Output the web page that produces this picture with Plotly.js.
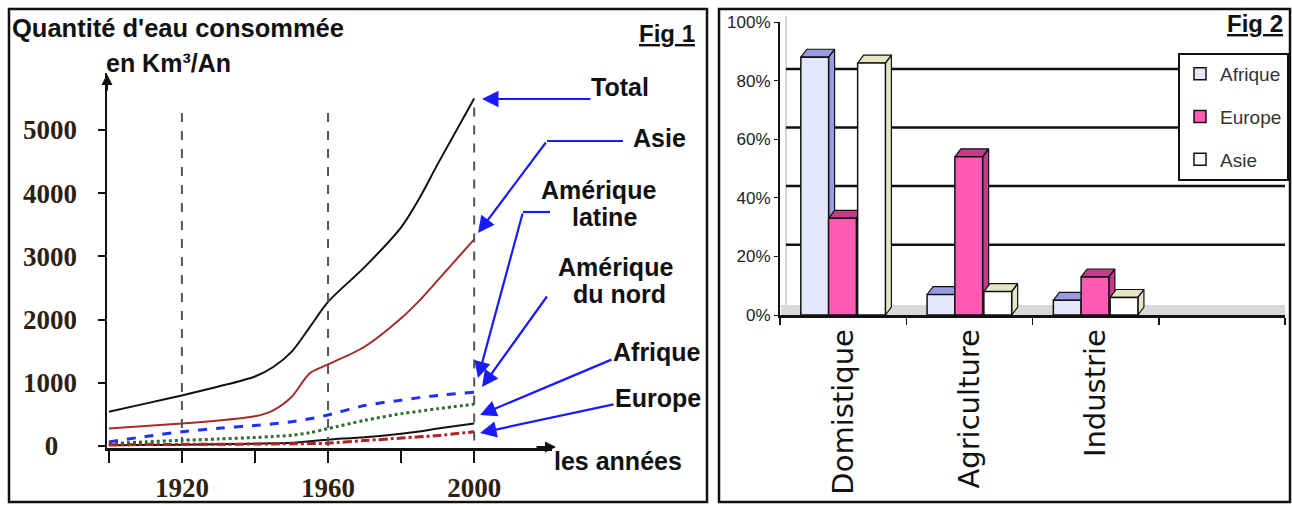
<!DOCTYPE html>
<html><head><meta charset="utf-8">
<script src="https://cdn.plot.ly/plotly-3.0.1.min.js"></script>
<style>html,body{margin:0;padding:0;background:#fff}#c{width:1292px;height:505px}</style>
</head><body><div id="c"></div>
<script>
// ---- Fig 1 data (km3 / an) ----
const years    = [1900,1910,1920,1930,1940,1945,1950,1955,1960,1970,1980,1985,1990,2000];
const total    = [540, 670, 800, 940,1100,1250,1490,1880,2280,2830,3460,3920,4460,5500];
const asie     = [275, 315, 355, 405, 470, 565, 775,1150,1290,1570,2020,2300,2620,3270];
const amLatine = [65,  150, 225, 280, 325, 350, 385, 430, 490, 640, 725, 765, 800, 850];
const amNord   = [35,   65,  90, 110, 135, 150, 170, 210, 275, 405, 510, 550, 590, 660];
const afrique  = [10,   15,  20,  28,  35,  42,  50,  75, 100, 140, 195, 230, 275, 355];
const europe   = [20,   22,  25,  28,  30,  33,  35,  38,  45,  85, 125, 145, 165, 225];
const yTickVals1 = [0,1000,2000,3000,4000,5000];
const yTickText1 = ['0\u2007\u2009','1000','2000','3000','4000','5000'];
const xTickVals1 = [1900,1920,1940,1960,1980,2000];
const xTickText1 = ['','1920','','1960','','2000'];

// ---- Fig 2 data (%) ----
const sectors    = ['Domistique','Agriculture','Industrie'];
const pctAfrique = [88, 7, 5];
const pctEurope  = [33, 54, 13];
const pctAsie    = [86, 8, 6];
const pctTicks   = [0,20,40,60,80,100];
const pctLabels  = ['0%','20%','40%','60%','80%','100%'];

const W = 1292, H = 505;
const px = x => x / W, py = y => 1 - y / H;

const traces = [];
const lineDefs = [
  [total, 'Total', {color:'#111', width:2}],
  [asie, 'Asie', {color:'#a52a2a', width:2}],
  [amLatine, 'Amérique latine', {color:'#1f2fff', width:3, dash:'dash'}],
  [amNord, 'Amérique du nord', {color:'#2e6b2e', width:3, dash:'dot'}],
  [afrique, 'Afrique', {color:'#111', width:2}],
  [europe, 'Europe', {color:'#b22222', width:3, dash:'dashdot'}]
];
lineDefs.forEach(([vals, name, line]) => {
  traces.push({type:'scatter', mode:'lines', x:years, y:vals, name:name,
    line:Object.assign({shape:'spline', smoothing:0.8}, line),
    xaxis:'x', yaxis:'y', showlegend:false, hoverinfo:'skip'});
});

// 3D faces of Fig 2 bars (base subplot x2/y2), front faces as bars on overlay x3/y3
const BW = 0.22, DX = 0.0475, DY = 2.7;
const series2 = [
  [pctAfrique, 'Afrique', -0.335, '#e6e6fa', '#9a9ae2'],
  [pctEurope,  'Europe',  -0.115, '#ff5ab4', '#c23c8c'],
  [pctAsie,    'Asie',     0.115, '#ffffff', '#e6e6c4']
];
series2.forEach(([vals, name, off, front, side]) => {
  const xs = [], ys = [];
  vals.forEach((v, i) => {
    const xl = i + off, xr = xl + BW;
    xs.push(xl, xl+DX, xr+DX, xr, xl, null);
    ys.push(v, v+DY, v+DY, v, v, null);
    xs.push(xr, xr+DX, xr+DX, xr, xr, null);
    ys.push(v, v+DY, DY, 0, v, null);
  });
  traces.push({type:'scatter', mode:'lines', x:xs, y:ys, fill:'toself', fillcolor:side,
    line:{color:'#111', width:1.2}, xaxis:'x2', yaxis:'y2', showlegend:false, hoverinfo:'skip', connectgaps:false});
});
series2.forEach(([vals, name, off, front]) => {
  traces.push({type:'bar', x:sectors, y:vals, name:name, offset:off, width:BW,
    marker:{color:front, line:{color:'#111', width:1.5}},
    xaxis:'x3', yaxis:'y3', legendgroup:name, hoverinfo:'skip'});
});

const f1 = 'Liberation Sans, Arial, sans-serif';
const tickFont1 = {family:'Liberation Serif, Times New Roman, serif', size:27, color:'#2e1f10', weight:'bold'};
const blue = '#1a1aff';

const ann = [];
const txt = (t, x, y, opt={}) => ann.push(Object.assign({text:t, x:px(x), y:py(y), xref:'paper', yref:'paper',
  showarrow:false, xanchor:'left', yanchor:'middle', font:{family:f1, size:25, color:'#111'}}, opt));
const arrow = (tx, ty, hx, hy, color=blue, w=2.2, size=1.5) => ann.push({text:'', x:px(hx), y:py(hy), xref:'paper', yref:'paper',
  ax:tx-hx, ay:ty-hy, axref:'pixel', ayref:'pixel', showarrow:true, arrowhead:2, arrowsize:size, arrowwidth:w, arrowcolor:color, standoff:0, startstandoff:0});

txt('<b>Quantité d\'eau consommée</b>', 10, 28, {font:{family:f1, size:25.5, color:'#111'}});
txt('<b>en Km³/An</b>', 104, 63, {font:{family:f1, size:25, color:'#111'}});
txt('<b><u>Fig 1</u></b>', 637, 33, {font:{family:f1, size:24, color:'#111'}});
txt('<b>Total</b>', 589, 87);
txt('<b>Asie</b>', 631, 138);
txt('<b>Amérique</b>', 598, 190, {xanchor:'center'});
txt('<b>latine</b>', 604, 217, {xanchor:'center'});
txt('<b>Amérique</b>', 615, 267, {xanchor:'center'});
txt('<b>du nord</b>', 619, 294, {xanchor:'center'});
txt('<b>Afrique</b>', 611, 352);
txt('<b>Europe</b>', 613, 398);
txt('<b>les années</b>', 552, 461);
txt('<b><u>Fig 2</u></b>', 1225, 23, {font:{family:f1, size:24, color:'#111'}});

arrow(592, 99, 482, 99);
arrow(547, 141, 478, 233);
arrow(523, 212, 478, 378);
arrow(548, 295, 482, 387);
arrow(613, 359, 480, 415);
arrow(615, 404, 480, 433);
// axis arrows
arrow(107, 92, 107, 74, '#111', 2, 1.1);
arrow(535, 447, 556, 447, '#111', 2, 1.1);

const shapes = [
  // frames
  {type:'rect', xref:'paper', yref:'paper', x0:px(9), x1:px(707), y0:py(9), y1:py(502), line:{color:'#111', width:2.5}},
  {type:'rect', xref:'paper', yref:'paper', x0:px(719), x1:px(1290), y0:py(9), y1:py(502), line:{color:'#111', width:2.5}},
  // blue bent segments
  {type:'line', xref:'paper', yref:'paper', x0:px(623), x1:px(547), y0:py(141), y1:py(141), line:{color:blue, width:2.2}},
  {type:'line', xref:'paper', yref:'paper', x0:px(550), x1:px(523), y0:py(212), y1:py(212), line:{color:blue, width:2.2}},
  // Fig 1 reference dashed verticals
  {type:'line', xref:'x', yref:'y', x0:1920, x1:1920, y0:0, y1:5380, line:{color:'#555', width:2, dash:'dash'}},
  {type:'line', xref:'x', yref:'y', x0:1960, x1:1960, y0:0, y1:5380, line:{color:'#555', width:2, dash:'dash'}},
  {type:'line', xref:'x', yref:'y', x0:2000, x1:2000, y0:-200, y1:5500, line:{color:'#555', width:2, dash:'dash'}},
  // Fig 2 floor & back wall
  {type:'rect', xref:'paper', yref:'paper', x0:px(781), x1:px(1285), y0:py(315), y1:py(305), line:{width:0}, fillcolor:'#d9d9d9', layer:'below'},
  {type:'line', xref:'paper', yref:'paper', x0:px(786), x1:px(786), y0:py(305), y1:py(16), line:{color:'#c8c8c8', width:1.5}, layer:'below'}
];
[20,40,60,80].forEach(g => shapes.push({type:'line', xref:'paper', yref:'y2', x0:px(786), x1:px(1285), y0:g+4, y1:g+4,
  line:{color:'#111', width:2.5}, layer:'below'}));

const layout = {
  width:W, height:H, margin:{l:0, r:0, t:0, b:0}, paper_bgcolor:'#fff', plot_bgcolor:'rgba(0,0,0,0)',
  barmode:'overlay', showlegend:true,
  xaxis:{domain:[px(107), px(552)], range:[1899.5, 2021.3], showgrid:false, zeroline:false, showline:true,
    linecolor:'#111', linewidth:2.5, ticks:'outside', ticklen:12, tickwidth:2, tickcolor:'#111',
    tickvals:xTickVals1, ticktext:xTickText1, tickfont:tickFont1, ticklabelstandoff:2},
  yaxis:{domain:[py(448), py(73)], range:[-32, 5902], showgrid:false, zeroline:false, showline:true,
    linecolor:'#111', linewidth:2.5, ticks:'outside', ticklen:7, tickwidth:2, tickcolor:'#111',
    tickvals:yTickVals1, ticktext:yTickText1, tickfont:tickFont1, ticklabelstandoff:15},
  xaxis2:{domain:[px(780), px(1285)], range:[-0.5, 3.5], anchor:'y2', showgrid:false, zeroline:false,
    showline:true, linecolor:'#111', linewidth:2.5, tickvals:[0,1,2], ticktext:sectors, ticks:'', tickangle:-90,
    tickfont:{family:'DejaVu Sans, sans-serif', size:29, color:'#111'},
    minor:{tickvals:[-0.5,0.5,1.5,2.5,3.5], ticks:'outside', ticklen:7, tickwidth:1.5, tickcolor:'#111', showgrid:false}},
  yaxis2:{domain:[py(315), py(22)], range:[0, 100], anchor:'x2', showgrid:false, zeroline:false,
    showline:true, linecolor:'#111', linewidth:2, ticks:'outside', ticklen:4, tickcolor:'#111',
    tickvals:pctTicks, ticktext:pctLabels, tickfont:{family:'Liberation Sans, Arial, sans-serif', size:17, color:'#222'}},
  xaxis3:{domain:[px(780), px(1285)], range:[-0.5, 3.5], type:'category', categoryorder:'array',
    categoryarray:sectors, overlaying:'x2', anchor:'y3', visible:false},
  yaxis3:{domain:[py(315), py(22)], range:[0, 100], overlaying:'y2', anchor:'x3', visible:false},
  legend:{x:px(1289), y:py(53), xanchor:'right', yanchor:'top', bgcolor:'#fff', bordercolor:'#111', borderwidth:2,
    font:{family:'Liberation Sans, Arial, sans-serif', size:19, color:'#333'}, tracegroupgap:15, itemwidth:30},
  annotations:ann, shapes:shapes
};
Plotly.newPlot('c', traces, layout, {staticPlot:true});
</script></body></html>
